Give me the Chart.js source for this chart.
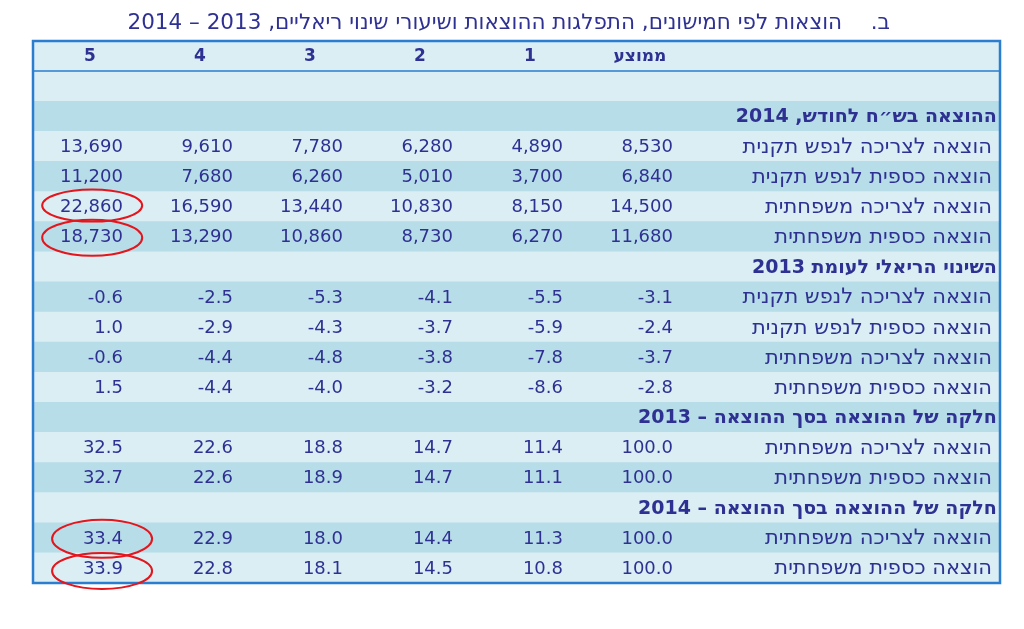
<!DOCTYPE html>
<html lang="he">
<head>
<meta charset="utf-8">
<script src="https://cdn.jsdelivr.net/npm/chart.js@4"></script>
<style>
  html, body { margin: 0; padding: 0; background: #fff; }
  #wrap { width: 1024px; height: 629px; }
</style>
</head>
<body>
<div id="wrap"><canvas id="tableChart" width="1024" height="629"></canvas></div>
<script>
// column headers, right to left: average then quintiles 1..5
const quintiles = ['ממוצע', '1', '2', '3', '4', '5'];

const titleLetter = 'ב.';
const titleText = 'הוצאות לפי חמישונים, התפלגות ההוצאות ושיעורי שינוי ריאליים, 2013 – 2014';

const sectionTitles = [
    'ההוצאה בש״ח לחודש, 2014',
    'השינוי הריאלי לעומת 2013',
    'חלקה של ההוצאה בסך ההוצאה – 2013',
    'חלקה של ההוצאה בסך ההוצאה – 2014'
];

const spendLabels = [
    'הוצאה לצריכה לנפש תקנית',
    'הוצאה כספית לנפש תקנית',
    'הוצאה לצריכה משפחתית',
    'הוצאה כספית משפחתית'
];
const shareLabels = ['הוצאה לצריכה משפחתית', 'הוצאה כספית משפחתית'];

// values per row: ממוצע, 1, 2, 3, 4, 5
const spend2014 = [
    [8530, 4890, 6280, 7780, 9610, 13690],
    [6840, 3700, 5010, 6260, 7680, 11200],
    [14500, 8150, 10830, 13440, 16590, 22860],
    [11680, 6270, 8730, 10860, 13290, 18730]
];
const realChange = [
    [-3.1, -5.5, -4.1, -5.3, -2.5, -0.6],
    [-2.4, -5.9, -3.7, -4.3, -2.9, 1.0],
    [-3.7, -7.8, -3.8, -4.8, -4.4, -0.6],
    [-2.8, -8.6, -3.2, -4.0, -4.4, 1.5]
];
const share2013 = [
    [100.0, 11.4, 14.7, 18.8, 22.6, 32.5],
    [100.0, 11.1, 14.7, 18.9, 22.6, 32.7]
];
const share2014 = [
    [100.0, 11.3, 14.4, 18.0, 22.9, 33.4],
    [100.0, 10.8, 14.5, 18.1, 22.8, 33.9]
];

// cells circled in red: [row index in table, column index]
const circled = [[5, 5], [6, 5], [16, 5], [17, 5]];
// hand-drawn look: small shift of each circle (column units, px)
const circleShift = [[0.28, -1, 16], [0.28, 1, 18], [0.19, 1, 19], [0.19, 3, 18]];

const navy = '#2e3192';
const lightRow = '#daeef4';
const darkRow = '#b7dde8';
const border = '#2a7dcf';

// build the row list
let rows = [{ type: 'header' }, { type: 'blank' }];
rows.push({ type: 'section', text: sectionTitles[0] });
spend2014.forEach((v, i) => rows.push({ type: 'data', label: spendLabels[i], values: v, fmt: 'int' }));
rows.push({ type: 'section', text: sectionTitles[1] });
realChange.forEach((v, i) => rows.push({ type: 'data', label: spendLabels[i], values: v, fmt: 'dec' }));
rows.push({ type: 'section', text: sectionTitles[2] });
share2013.forEach((v, i) => rows.push({ type: 'data', label: shareLabels[i], values: v, fmt: 'dec' }));
rows.push({ type: 'section', text: sectionTitles[3] });
share2014.forEach((v, i) => rows.push({ type: 'data', label: shareLabels[i], values: v, fmt: 'dec' }));

let rowKeys = rows.map((r, i) => 'r' + i);

// x scale in column units (one column = one unit), reversed for RTL
const xMin = -2.973;
const xMax = 5.818;
const labelPos = -2.9;
const sectionPos = -2.945;

function fmtValue(v, fmt) {
    if (fmt === 'int') return v.toLocaleString('en-US');
    return v.toFixed(1);
}

const tablePlugin = {
    id: 'tableText',
    afterDatasetsDraw(chart) {
        let ctx = chart.ctx;
        let x = chart.scales.x;
        let y = chart.scales.y;
        let area = chart.chartArea;
        ctx.save();
        ctx.textBaseline = 'middle';

        rows.forEach((row, i) => {
            let yc = y.getPixelForValue(i) + 1;
            if (row.type === 'header') {
                ctx.font = 'bold 17px "DejaVu Sans"';
                ctx.fillStyle = navy;
                ctx.textAlign = 'center';
                ctx.direction = 'rtl';
                quintiles.forEach((q, c) => {
                    ctx.fillText(q, x.getPixelForValue(c + 0.3), yc);
                });
            } else if (row.type === 'section') {
                ctx.font = 'bold 19px "DejaVu Sans"';
                ctx.fillStyle = navy;
                ctx.textAlign = 'right';
                ctx.direction = 'rtl';
                ctx.fillText(row.text, x.getPixelForValue(sectionPos), yc);
            } else if (row.type === 'data') {
                ctx.font = '21px "DejaVu Sans"';
                ctx.fillStyle = navy;
                ctx.direction = 'rtl';
                ctx.textAlign = 'right';
                ctx.fillText(row.label, x.getPixelForValue(labelPos), yc);
                ctx.font = '18px "DejaVu Sans"';
                ctx.direction = 'ltr';
                row.values.forEach((v, c) => {
                    ctx.fillText(fmtValue(v, row.fmt), x.getPixelForValue(c), yc);
                });
            }
        });

        // borders
        ctx.strokeStyle = border;
        ctx.lineWidth = 1.5;
        let headBottom = (y.getPixelForValue(0) + y.getPixelForValue(1)) / 2;
        ctx.beginPath();
        ctx.moveTo(area.left, headBottom);
        ctx.lineTo(area.right, headBottom);
        ctx.stroke();
        ctx.lineWidth = 2.5;
        ctx.strokeRect(area.left, area.top, area.right - area.left, area.bottom - area.top);

        // red circles
        ctx.strokeStyle = '#e4151c';
        ctx.lineWidth = 2;
        circled.forEach(([r, c], k) => {
            let [dc, dy, ry] = circleShift[k];
            let cx = x.getPixelForValue(c + dc);
            let cy = y.getPixelForValue(r) + dy;
            ctx.beginPath();
            ctx.ellipse(cx, cy, 50, ry, 0, 0, Math.PI * 2);
            ctx.stroke();
        });

        // title
        ctx.fillStyle = navy;
        ctx.direction = 'rtl';
        ctx.textAlign = 'right';
        ctx.font = '21.5px "DejaVu Sans"';
        ctx.fillText(titleLetter, x.getPixelForValue(-1.973), area.top - 18);
        ctx.fillText(titleText, x.getPixelForValue(-1.537), area.top - 18);
        ctx.restore();
    }
};

let ctx = document.getElementById('tableChart').getContext('2d');

let tableChart = new Chart(ctx, {
    type: 'bar',
    data: {
        labels: rowKeys,
        datasets: [{
            data: rows.map(() => [xMin, xMax]),
            backgroundColor: rows.map((r, i) => (i >= 2 && i % 2 === 0) ? darkRow : lightRow),
            borderWidth: 0,
            barPercentage: 1,
            categoryPercentage: 1
        }]
    },
    options: {
        indexAxis: 'y',
        responsive: false,
        animation: false,
        layout: { padding: { left: 33, right: 24, top: 41, bottom: 46 } },
        plugins: {
            legend: { display: false },
            tooltip: { enabled: false }
        },
        scales: {
            x: { type: 'linear', min: xMin, max: xMax, reverse: true, display: false },
            y: { type: 'category', display: false }
        }
    },
    plugins: [tablePlugin]
});
</script>
</body>
</html>
